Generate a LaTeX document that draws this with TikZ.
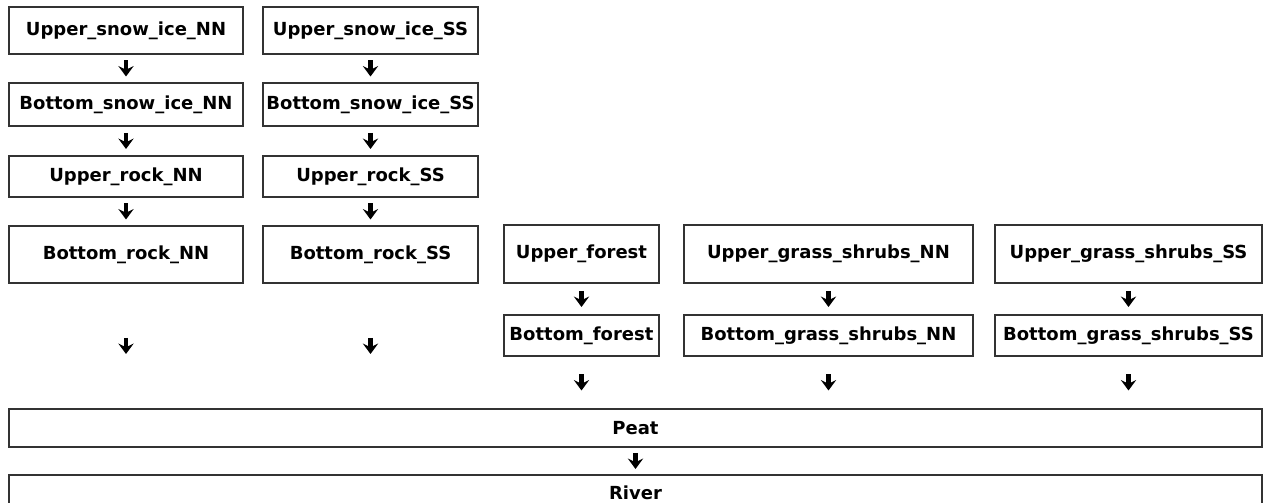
\documentclass[tikz,border=0pt]{standalone}
\usepackage{fontspec}
\setsansfont{DejaVu Sans}
\usetikzlibrary{arrows.meta,calc}

% short bold arrow centred in the gap between two anchors
\newcommand{\gaparrow}[2]{\draw[arr] ($(#1)!.5!(#2)$) ++(0,-8) -- ++(0,16);}

\begin{document}
\begin{tikzpicture}[
  x=0.025cm, y=-0.025cm,
  every node/.style={font=\sffamily\bfseries\fontsize{12.8}{15}\selectfont},
  box/.style={rectangle, draw=black!80, line width=0.9pt, inner sep=0pt, align=center},
  bw/.style={minimum width=#1*0.025cm},
  bh/.style={minimum height=#1*0.025cm},
  arr/.style={-{Stealth[length=0.26cm, width=0.38cm, inset=0.09cm]}, line width=3.3pt}
]
\useasboundingbox (0,0) rectangle (1264,503);

%% snow/ice and rock columns (NN, SS)
\foreach \s/\cx/\w in {NN/126/234, SS/370.5/215} {
  \node[box, bw=\w, bh=47] (usi\s) at (\cx, 30.5)  {Upper\_snow\_ice\_\s};
  \node[box, bw=\w, bh=43] (bsi\s) at (\cx, 104.5) {Bottom\_snow\_ice\_\s};
  \node[box, bw=\w, bh=41] (ur\s)  at (\cx, 176.5) {Upper\_rock\_\s};
  \node[box, bw=\w, bh=57] (br\s)  at (\cx, 254.5) {Bottom\_rock\_\s};
  \gaparrow{usi\s.south}{bsi\s.north}
  \gaparrow{bsi\s.south}{ur\s.north}
  \gaparrow{ur\s.south}{br\s.north}
}

%% forest and grass/shrubs columns
\foreach \n/\cx/\w/\lbl in {fo/581.5/155/forest, gN/828.5/289/grass\_shrubs\_NN, gS/1128.5/267/grass\_shrubs\_SS} {
  \node[box, bw=\w, bh=58] (u\n) at (\cx, 254)   {Upper\_\lbl};
  \node[box, bw=\w, bh=41] (b\n) at (\cx, 335.5) {Bottom\_\lbl};
  \gaparrow{u\n.south}{b\n.north}
}

%% peat and river
\node[box, bw=1253, bh=38] (peat)  at (635.5, 428) {Peat};
\node[box, bw=1253, bh=36] (river) at (635.5, 493) {River};
\gaparrow{peat.south}{river.north}

\foreach \n in {brNN, brSS, bfo, bgN, bgS} {
  \gaparrow{\n.south}{\n.south |- peat.north}
}
\end{tikzpicture}
\end{document}
